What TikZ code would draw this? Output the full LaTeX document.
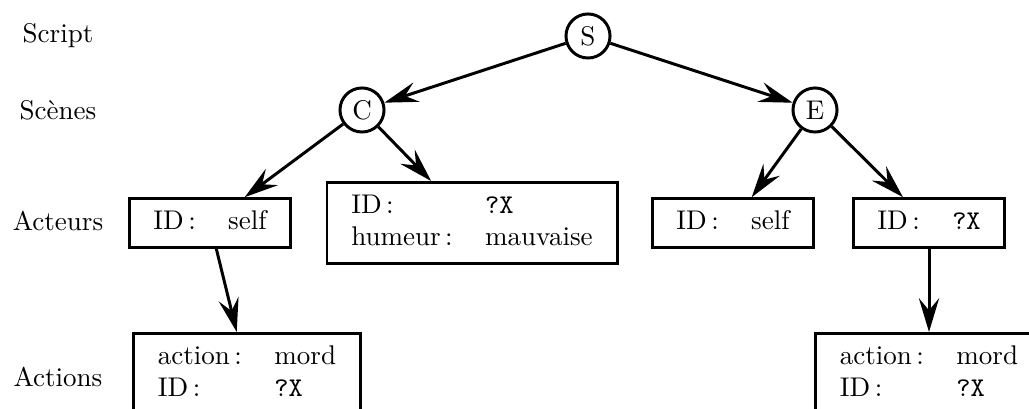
\documentclass[tikz,border=0pt]{standalone}
\usetikzlibrary{arrows.meta}

\begin{document}
\begin{tikzpicture}[x=0.37pt, y=-0.37pt,
every node/.style = {line width=1.1pt, color=black},
circ/.style = {draw, shape=circle, minimum size=16.3pt, inner sep=0.5pt},
card/.style = {draw, shape=rectangle, inner sep=3pt},
lvl/.style = {align=center},
link/.style = {line width=1.1pt, -{Stealth[length=12.5pt, width=7.5pt, inset=4.5pt]}}
]
\useasboundingbox (0,0) rectangle (1029,409);

% niveaux
\node (script) [lvl] at (58,36) {Script};
\node (scenes) [lvl] at (58,110) {Scènes};
\node (acteurs) [lvl] at (58,221) {Acteurs};
\node (actions) [lvl] at (58,377) {Actions};

% script et scenes
\node (S) [circ] at (588,36) {S};
\node (C) [circ] at (362,110) {C};
\node (E) [circ] at (815,110) {E};

% acteurs
\node (moiC) [card] at (210,223) {\begin{tabular}{ll} ID\,: & self \end{tabular}};
\node (autreC) [card] at (472,223) {\begin{tabular}{ll} ID\,: & \texttt{?X} \\ humeur\,: & mauvaise \end{tabular}};
\node (moiE) [card] at (733,223) {\begin{tabular}{ll} ID\,: & self \end{tabular}};
\node (autreE) [card] at (929,223) {\begin{tabular}{ll} ID\,: & \texttt{?X} \end{tabular}};

% actions
\node (mordC) [card] at (247,374) {\begin{tabular}{ll} action\,: & mord \\ ID\,: & \texttt{?X} \end{tabular}};
\node (mordE) [card] at (929,374) {\begin{tabular}{ll} action\,: & mord \\ ID\,: & \texttt{?X} \end{tabular}};

\draw [link] (S) -- (C);
\draw [link] (S) -- (E);
\draw [link] (C) -- (moiC);
\draw [link] (C) -- (autreC);
\draw [link] (E) -- (moiE);
\draw [link] (E) -- (autreE);
\draw [link] (moiC) -- (mordC);
\draw [link] (autreE) -- (mordE);

\end{tikzpicture}
\end{document}
